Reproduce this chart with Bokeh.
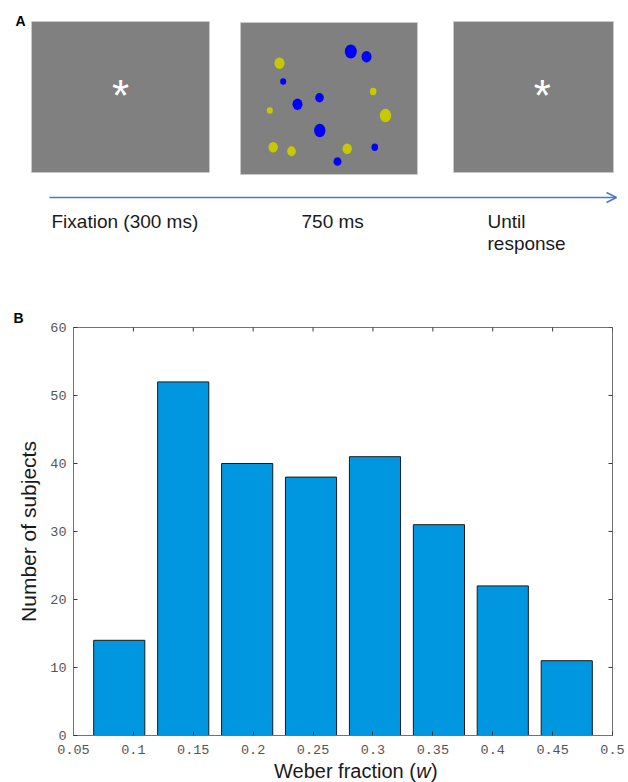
from bokeh.plotting import figure
from bokeh.models import Range1d, FixedTicker, Arrow, OpenHead
from bokeh.embed import file_html
from bokeh.resources import INLINE
from bokeh.core.properties import value

# ---------------- data (panel B histogram) ----------------
weber_bin_centers = [0.0882, 0.1416, 0.1950, 0.2483, 0.3017, 0.3551, 0.4084, 0.4618]
subject_counts = [14, 52, 40, 38, 41, 31, 22, 11]
x_ticks = [0.05, 0.1, 0.15, 0.2, 0.25, 0.3, 0.35, 0.4, 0.45, 0.5]
x_tick_labels = ["0.05", "0.1", "0.15", "0.2", "0.25", "0.3", "0.35", "0.4", "0.45", "0.5"]
y_ticks = [0, 10, 20, 30, 40, 50, 60]
y_tick_labels = ["0", "10", "20", "30", "40", "50", "60"]
x_title_parts = ["Weber fraction (", "w", ")"]
x_title_styles = ["normal", "italic", "normal"]

# ---------------- panel A stimulus (pixel layout of the sketch) ----------------
yellow_dot_x = [279, 269.3, 272.7, 291, 372.7, 385, 346.7]
yellow_dot_y = [62.7, 110, 146.7, 150.7, 91, 115, 148.3]
yellow_dot_w = [10, 6, 9.4, 8.6, 6.6, 11.4, 9.4]
yellow_dot_h = [11.4, 6.6, 10.6, 10, 7.4, 13.4, 10.6]
blue_dot_x = [350.3, 366, 282.7, 297, 319, 319.3, 374.3, 337]
blue_dot_y = [51, 56.3, 81, 103.7, 97.3, 130, 146.7, 161]
blue_dot_w = [12, 10, 6, 10, 8.6, 11.4, 6.6, 8]
blue_dot_h = [14, 11.4, 6.6, 11.4, 9.4, 13.4, 7.4, 8.6]
caption_text = ["Fixation (300 ms)", "750 ms", "Until", "response"]

# layout of the sketch (page pixels)
screen_left = [31, 240, 453]
screen_right = [209, 417, 613]
screen_top = [21, 22, 21]
screen_bottom = [172, 174, 172]
caption_x = [51, 301, 487, 487]
caption_y = [221, 221, 221, 243]

SANS = value("Liberation Sans")
MONO = "Liberation Mono"

# ---------------- panel A ----------------
pa = figure(width=628, height=300, x_range=Range1d(0, 628), y_range=Range1d(300, 0),
            output_backend="svg", toolbar_location=None, x_axis_type=None, y_axis_type=None,
            min_border=0)
pa.outline_line_color = None
pa.background_fill_color = "white"

pa.quad(left=screen_left, right=screen_right, top=screen_top, bottom=screen_bottom,
        fill_color="#808080", line_color="#c8c8c8", line_width=1)
pa.ellipse(x=yellow_dot_x, y=yellow_dot_y, width=yellow_dot_w, height=yellow_dot_h,
           fill_color="#c8c800", line_color=None)
pa.ellipse(x=blue_dot_x, y=blue_dot_y, width=blue_dot_w, height=blue_dot_h,
           fill_color="#0000ff", line_color=None)
pa.text(x=[120, 541.7], y=[95, 95], text=["*", "*"], text_align="center",
        text_baseline="alphabetic", text_font_size="44px", text_color="white", text_font=SANS)
pa.add_layout(Arrow(end=OpenHead(size=10, line_color="#4a78c8", line_width=1.5),
                    x_start=49, y_start=197, x_end=616, y_end=197,
                    line_color="#4a78c8", line_width=1.5))
pa.text(x=caption_x, y=caption_y, text=caption_text, text_align="left", text_baseline="middle",
        text_font_size="19px", text_color="#1a1a1a", text_font=SANS)
pa.text(x=[20], y=[20], text=["A"], text_align="center", text_baseline="middle",
        text_font_size="14px", text_font_style="bold", text_color="black", text_font=SANS)

# ---------------- panel B ----------------
pb = figure(width=628, height=460, x_range=Range1d(0.05, 0.5), y_range=Range1d(0, 60),
            output_backend="svg", toolbar_location=None,
            min_border_left=73, min_border_right=16, min_border_top=27, min_border_bottom=25)
AX_LINE = "#737373"
TICK = "#3a3a3a"
LBL = "#555555"
pb.outline_line_color = AX_LINE
pb.outline_line_width = 1
pb.grid.visible = False
pb.background_fill_color = "white"

# panel letter as a left-shifted title
pb.title.text = "B"
pb.title.align = "left"
pb.title.offset = -60
pb.title.standoff = 3
pb.title.text_font = "Liberation Sans"
pb.title.text_font_size = "14px"
pb.title.text_font_style = "bold"
pb.title.text_color = "black"

pb.vbar(x=weber_bin_centers, top=subject_counts, width=0.0427, bottom=0,
        fill_color="#0097e0", line_color="#1a1a1a", line_width=1)

def style_axis(ax, ticks, labels, standoff):
    ax.ticker = FixedTicker(ticks=ticks)
    ax.major_tick_in = 4
    ax.major_tick_out = 0
    ax.minor_tick_in = 0
    ax.minor_tick_out = 0
    ax.axis_line_color = AX_LINE
    ax.axis_line_width = 1
    ax.major_tick_line_color = TICK
    ax.major_label_overrides = {t: l for t, l in zip(ticks, labels)}
    ax.major_label_text_font = MONO
    ax.major_label_text_font_size = "13.5px"
    ax.major_label_text_color = LBL
    ax.major_label_standoff = standoff

xb = pb.xaxis[0]
style_axis(xb, x_ticks, x_tick_labels, 9)
yl = pb.yaxis[0]
style_axis(yl, y_ticks, y_tick_labels, 7)
yl.axis_label = "Number of subjects"
yl.axis_label_text_font = "Liberation Sans"
yl.axis_label_text_font_size = "21px"
yl.axis_label_text_font_style = "normal"
yl.axis_label_text_color = "#1a1a1a"
yl.axis_label_standoff = 7

# inward ticks on the top and right edges of the box (half of each dash is clipped by the frame)
pb.scatter(x=x_ticks, y=[60] * len(x_ticks), marker="dash", angle=1.5708, size=8,
           line_color=TICK, line_width=1)
pb.scatter(x=[0.5] * len(y_ticks), y=y_ticks, marker="dash", size=8,
           line_color=TICK, line_width=1)

# ---------------- x-axis title strip (page y 760..782) ----------------
pc = figure(width=628, height=22, x_range=Range1d(0, 628), y_range=Range1d(782, 760),
            output_backend="svg", toolbar_location=None, x_axis_type=None, y_axis_type=None,
            min_border=0)
pc.outline_line_color = None
pc.background_fill_color = "white"
title_x = [273.5, 415.8, 430.5]
for txt, style, tx in zip(x_title_parts, x_title_styles, title_x):
    pc.text(x=[tx], y=[770.5], text=[txt], text_align="left", text_baseline="middle",
            text_font_size="20px", text_font_style=style, text_color="#1a1a1a", text_font=SANS)

open("out.html", "w").write(file_html([pa, pb, pc], INLINE))
